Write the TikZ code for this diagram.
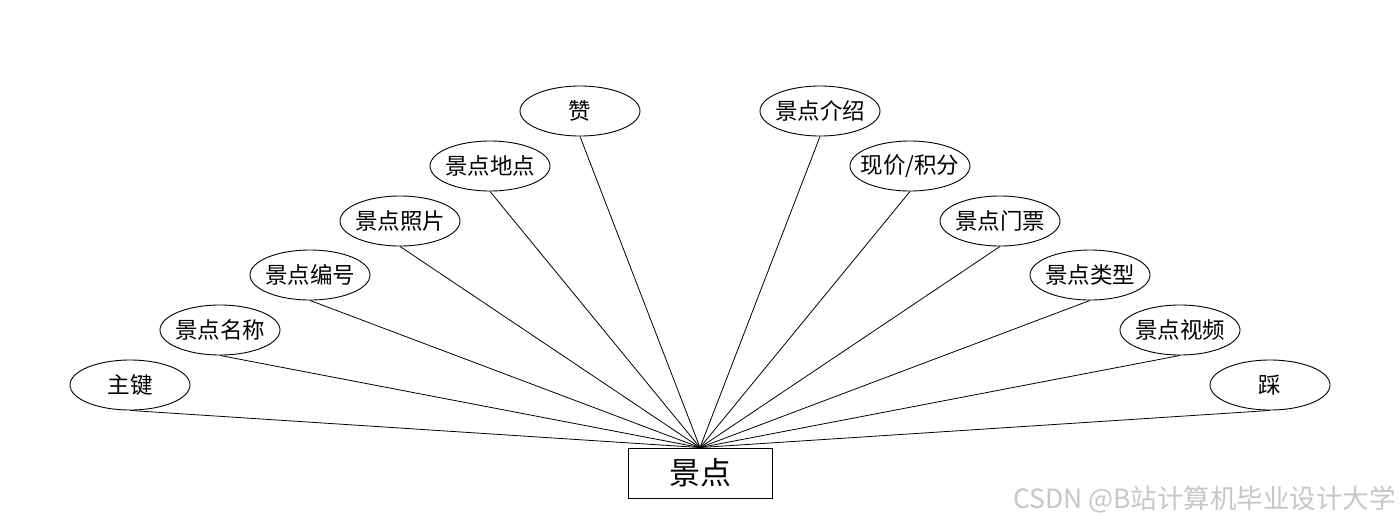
\documentclass[tikz,border=0pt]{standalone}
\usepackage{fontspec}
\setmainfont{Noto Sans CJK SC}
\usetikzlibrary{shapes.geometric}
\tikzset{
  attr/.style={draw, ellipse, line width=0.9pt, minimum width=120pt, minimum height=50pt, inner ysep=0pt, inner xsep=-12pt, font=\fontsize{22.5}{22.5}\selectfont},
  ent/.style={draw, rectangle, line width=0.9pt, minimum width=144pt, minimum height=50pt, inner sep=0pt, font=\fontsize{31}{31}\selectfont},
  link/.style={line width=0.8pt}
}
\begin{document}
\begin{tikzpicture}[x=1pt,y=-1pt]
\useasboundingbox (0,0) rectangle (1400,528);
\fill[white] (0,0) rectangle (1400,528);
\node[ent] (e) at (700,473) {景点};
\node[attr] (a1) at (130,385) {主键};
\node[attr] (a2) at (220,330) {景点名称};
\node[attr] (a3) at (310,275) {景点编号};
\node[attr] (a4) at (400,221) {景点照片};
\node[attr] (a5) at (490,166) {景点地点};
\node[attr] (a6) at (580,111) {赞};
\node[attr] (a7) at (820,111) {景点介绍};
\node[attr] (a8) at (910,166) {现价/积分};
\node[attr] (a9) at (1000,221) {景点门票};
\node[attr] (a10) at (1090,275) {景点类型};
\node[attr] (a11) at (1180,330) {景点视频};
\node[attr] (a12) at (1270,385) {踩};
\foreach \i in {1,...,12} \draw[link] (a\i.south) -- (e.north);
\node[anchor=east, text=black!22, font=\fontsize{26.5}{26.5}\selectfont, inner sep=0pt] (wm) at (1396,500) {CSDN @B站计算机毕业设计大学};
\end{tikzpicture}
\end{document}
